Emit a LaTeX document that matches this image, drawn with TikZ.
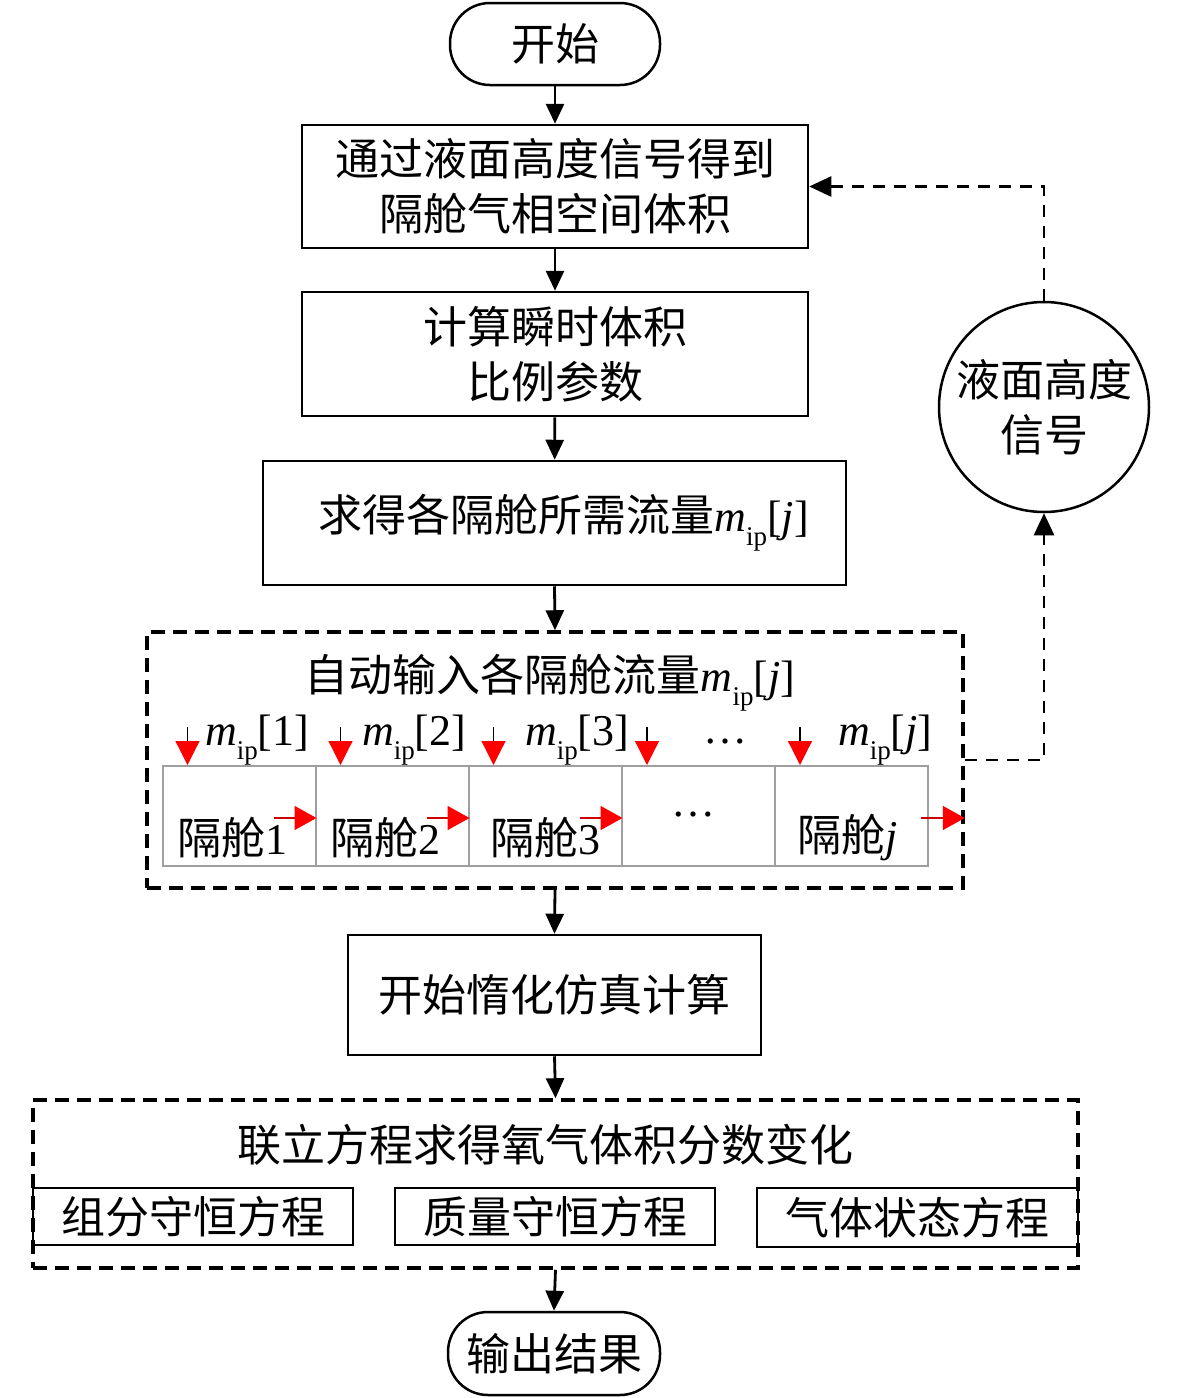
\documentclass[tikz,border=0pt]{standalone}
\usepackage{fontspec}
\setmainfont{Noto Sans CJK SC}
\newfontfamily\tnr{Liberation Serif}
\usetikzlibrary{arrows.meta,calc}
\newcommand{\mipx}[1]{{\tnr\itshape m}\raisebox{-0.32em}{\tnr\fontsize{27}{27}\selectfont ip}{\tnr[#1]}}
\begin{document}
\begin{tikzpicture}[x=1pt,y=-1pt,
  txt/.style={font=\fontsize{44}{55}\selectfont, inner sep=0pt, align=center},
  box/.style={txt, draw, line width=2.5pt},
  term/.style={box, rounded corners=40pt},
  dbox/.style={draw, line width=3.5pt, dash pattern=on 14pt off 8pt, inner sep=0pt},
  flow/.style={line width=2.8pt, -{Triangle[length=20pt,width=18pt]}},
  fb/.style={line width=2.5pt, dash pattern=on 12pt off 9pt, -{Triangle[length=22pt,width=20pt]}},
  comp/.style={draw=gray!75, line width=2pt, minimum width=153pt, minimum height=100pt, inner sep=0pt},
  rdown/.style={line width=1.2pt, -{Triangle[length=24pt,width=24pt,color=red,fill=red]}},
  rright/.style={line width=1.5pt, draw=red!80!black, -{Triangle[length=22pt,width=24pt,color=red,fill=red]}},
  lab/.style={inner sep=0pt, font=\fontsize{44}{50}\selectfont}
]
\fill[white] (0,0) rectangle (1181,1398);
\useasboundingbox (0,0) rectangle (1181,1398);

\node[term, minimum width=210pt, minimum height=82pt] (start) at (555,44) {开始};
\node[box, minimum width=506pt, minimum height=123pt] (b1) at (555,186.5) {通过液面高度信号得到\\隔舱气相空间体积};
\node[box, minimum width=506pt, minimum height=124pt] (b2) at (555,354) {计算瞬时体积\\比例参数};
\node[box, minimum width=583pt, minimum height=124pt] (b3) at (554.5,523) {\hspace*{18pt}求得各隔舱所需流量\mipx{\textit{j}}};
\node[dbox, minimum width=816pt, minimum height=256pt] (d1) at (555,760) {};
\node[lab] (t1) at (550,683) {自动输入各隔舱流量\mipx{\textit{j}}};

% compartments
\node[comp] (c1) at (239,816) {};
\node[comp] (c2) at (392,816) {};
\node[comp] (c3) at (545,816) {};
\node[comp] (c4) at (698.5,816) {};
\node[comp] (c5) at (851.5,816) {};
\node[lab] (n1) at (232,838) {隔舱{\tnr 1}};
\node[lab] (n2) at (385,838) {隔舱{\tnr 2}};
\node[lab] (n3) at (545,838) {隔舱{\tnr 3}};
\node[lab] (n4) at (693,815) {{\tnr …}};
\node[lab] (n5) at (848,838) {隔舱{\tnr\itshape j}};

\node[lab, anchor=west] (m1) at (205,740) {\mipx{1}};
\node[lab, anchor=west] (m2) at (362,740) {\mipx{2}};
\node[lab, anchor=west] (m3) at (525,740) {\mipx{3}};
\node[lab] (m4) at (725,742) {{\tnr …}};
\node[lab, anchor=west] (m5) at (838,740) {\mipx{\textit{j}}};

\foreach \c in {c1,c2,c3,c4,c5}{
  \draw[rdown] ($(\c.north west)+(26,-38)$) -- ($(\c.north west)+(26,0)$);
}
\foreach \c in {c1,c2,c3}{
  \draw[rright] ($(\c.east)+(-43,2)$) -- ($(\c.east)+(0,2)$);
}
\draw[rright] ($(c5.east)+(-8,2)$) -- ($(d1.east |- c5.east)+(0,2)$);

\node[box, minimum width=413pt, minimum height=120pt] (b4) at (554.5,995) {开始惰化仿真计算};
\node[dbox, minimum width=1045pt, minimum height=168pt] (d2) at (555.5,1184) {};
\node[lab] (t2) at (545,1145) {联立方程求得氧气体积分数变化};
\node[box, minimum width=320pt, minimum height=57pt] (e1) at (193,1216.5) {组分守恒方程};
\node[box, minimum width=320pt, minimum height=57pt] (e2) at (555,1216.5) {质量守恒方程};
\node[box, minimum width=321pt, minimum height=59pt] (e3) at (917.5,1217.5) {气体状态方程};
\node[term, minimum width=212pt, minimum height=83pt] (endn) at (554,1353.5) {输出结果};

\node[txt, draw, circle, line width=2.5pt, minimum size=210pt] (sig) at (1044,407) {液面高度\\信号};

\draw[flow] (start) -- (b1);
\draw[flow] (b1) -- (b2);
\draw[flow] (b2) -- (b3);
\draw[flow] (b3.south) -- (d1.north);
\draw[flow] (d1.south) -- (b4.north);
\draw[flow] (b4.south) -- (d2.north);
\draw[flow] (d2.south) -- (endn.north);

\draw[fb] (d1.east) -| (sig.south);
\draw[fb] (sig.north) |- (b1.east);
\end{tikzpicture}
\end{document}
